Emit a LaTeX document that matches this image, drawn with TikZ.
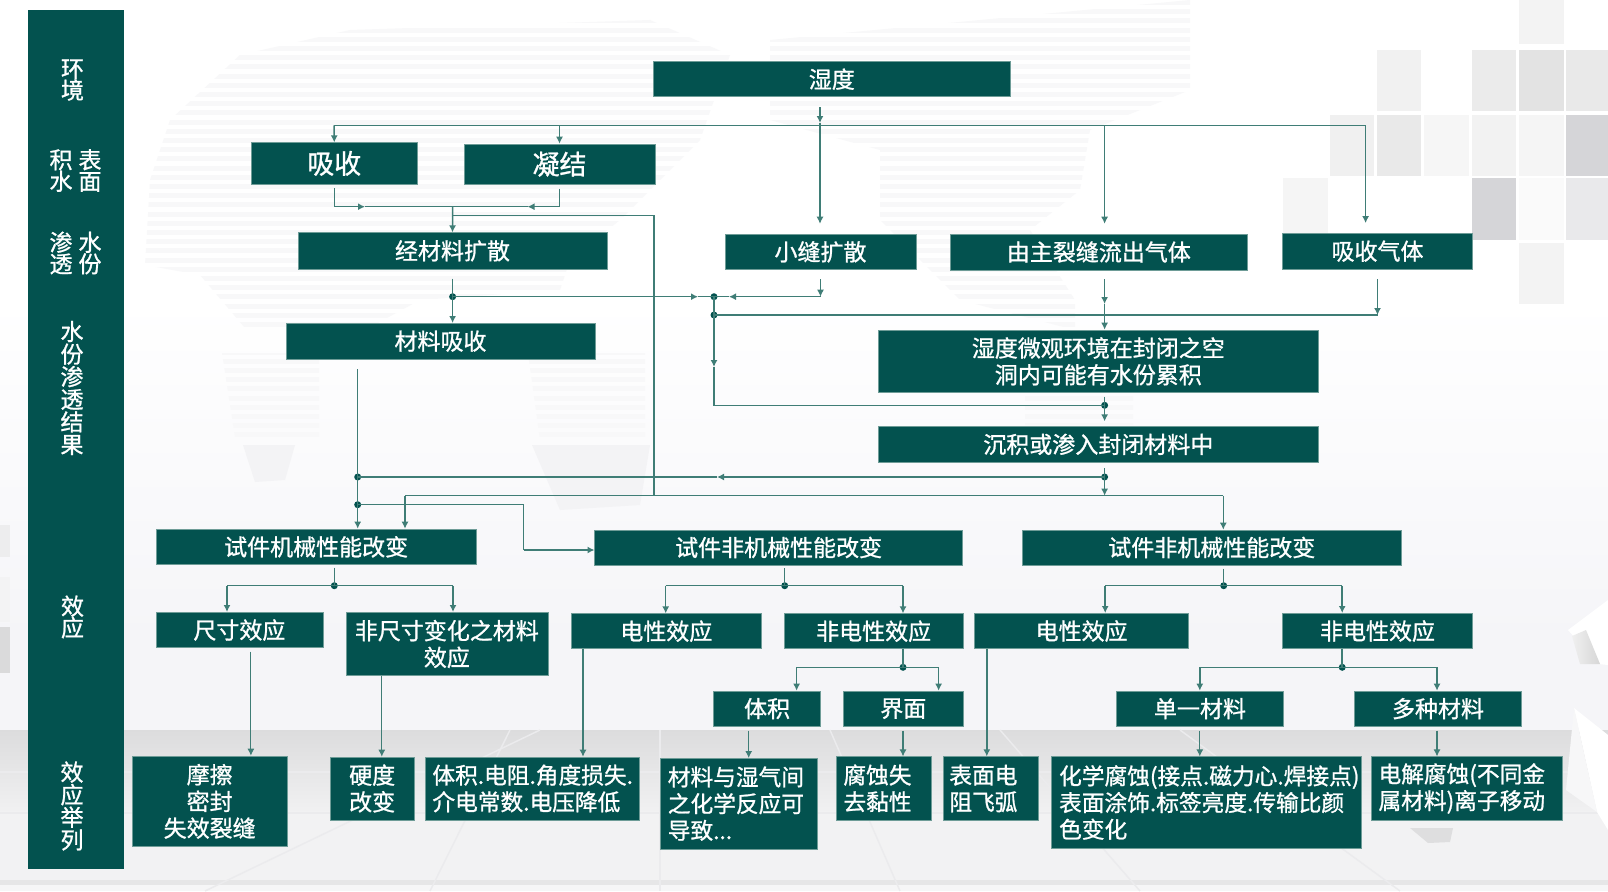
\documentclass[tikz,border=0pt]{standalone}
\usepackage{fontspec}
\setmainfont{Noto Sans CJK SC}[FakeBold=1]
\usetikzlibrary{arrows.meta}
\definecolor{boxteal}{HTML}{03524F}
\definecolor{wire}{HTML}{3F7D76}
\definecolor{edge}{HTML}{6E9C97}
\newcommand{\defc}[1]{\definecolor{#1}{HTML}{#1}}
\defc{F5F5F8}\defc{DCDCDD}\defc{F1F1F2}\defc{F2F2F3}\defc{E6E6E7}\defc{F6F6F7}\defc{EBEBED}\defc{F8F8F9}
\defc{F3F3F3}\defc{F5F5F5}\defc{F1F1F1}\defc{EBEBEB}\defc{E3E3E3}\defc{E9E9E9}\defc{F0F0F0}\defc{F6F6F6}
\defc{F2F2F2}\defc{D5D5D8}\defc{FAFAFA}\defc{E9E9EB}\defc{EDEDEE}\defc{F3F3F4}\defc{DADADB}\defc{D6D6D6}
\defc{F7F7F8}\defc{DEDEDF}\defc{F3F3F5}
\tikzset{
  box/.style={fill=boxteal,draw=edge,line width=.6pt,inner sep=0pt,text=white,align=center,font=\fontsize{23}{26.7}\selectfont},
  bigtxt/.style={font=\fontsize{27}{30}\selectfont},
  sidetxt/.style={text=white,align=center,inner sep=0pt,font=\fontsize{23}{21.5}\selectfont},
  sidetall/.style={text=white,align=center,inner sep=0pt,font=\fontsize{23}{22.6}\selectfont},
  conn/.style={draw=wire,line width=1.5pt,line join=miter},
  tip/.style={conn,-{Latex[length=7pt,width=7pt]}},
  dot/.style={circle,fill=boxteal,minimum size=7pt,inner sep=0pt}
}
\newcommand{\bx}[7][]{%
  \pgfmathsetmacro\bw{#5-#3}\pgfmathsetmacro\bh{#6-#4}%
  \node[box,minimum width=\bw pt,minimum height=\bh pt,#1] (#2) at ({(#3+#5)/2},{(#4+#6)/2}) {#7};}
\newcommand{\bxl}[7][]{%
  \pgfmathsetmacro\bw{#5-#3}\pgfmathsetmacro\bh{#6-#4}\pgfmathsetmacro\tw{#5-#3-2*#1}%
  \node[box,font=\fontsize{22.7}{26.7}\selectfont,minimum height=\bh pt,text width=\tw pt,inner xsep=#1 pt,align=left] (#2) at ({(#3+#5)/2},{(#4+#6)/2}) {#7};}
\newcommand{\sq}[5]{\fill[#5] (#1,#3) rectangle (#2,#4);}
\begin{document}
\begin{tikzpicture}[x=1pt,y=-1pt]
\useasboundingbox (0,0) rectangle (1608,891);
% ---------- background ----------
\fill[white] (0,0) rectangle (1608,300);
\shade[top color=white,bottom color=F5F5F8] (0,300) rectangle (1608,640) ;
\fill[F5F5F8] (0,640) rectangle (1608,730);
\shade[top color=DCDCDD,bottom color=F1F1F2] (0,730) rectangle (1608,812);
\fill[F2F2F3] (0,812) rectangle (1608,881);
\fill[E6E6E7] (0,880) rectangle (1608,885);
\fill[F6F6F7] (0,885) rectangle (1608,891);
\foreach \a/\b in {205/540,430/510,660/660,900/830,1140/1000,1400/1180}{
  \draw[EBEBED,line width=1.5pt] (\a,891) -- (\b,730);}
\draw[EBEBED,line width=1.5pt] (0,813) -- (1608,813);
\draw[EBEBED,line width=1.5pt] (0,772) -- (1608,772);
% world map stripes
\begin{scope}
\clip (350,30) -- (650,20) -- (730,55) -- (700,140) -- (620,220) -- (570,260) -- (560,290) -- (420,300) -- (365,330) -- (245,328) -- (200,275) -- (145,265) -- (150,180) -- (170,120) -- (240,55) -- cycle
      (222,353) -- (319,353) -- (319,437) -- (235,437) -- cycle
      (528,353) -- (645,353) -- (645,440) -- (540,440) -- cycle
      (770,40) -- (1190,0) -- (1190,90) -- (1090,130) -- (1080,190) -- (1030,230) -- (1075,300) -- (1075,330) -- (960,300) -- (880,220) -- (880,150) -- (770,120) -- cycle
      (1025,395) -- (1133,395) -- (1133,425) -- (1025,425) -- cycle;
  \foreach \r in {0,...,48}{
    \fill[F8F8F9] (100,{\r*9.2}) rectangle (1220,{\r*9.2+5});}
\end{scope}
\fill[F3F3F5] (243,445) -- (295,445) -- (285,480) -- (255,482) -- cycle;
\fill[F3F3F5] (532,445) -- (650,445) -- (640,505) -- (560,510) -- cycle;
% grey squares
\sq{1519}{1564}{0}{44}{F3F3F3}
\sq{1377}{1421}{50}{111}{F1F1F1}
\sq{1472}{1516}{50}{111}{EBEBEB}
\sq{1519}{1564}{50}{111}{E3E3E3}
\sq{1566}{1608}{50}{111}{E9E9E9}
\sq{1330}{1374}{115}{176}{F0F0F0}
\sq{1377}{1421}{115}{176}{E9E9E9}
\sq{1424}{1469}{115}{176}{F6F6F6}
\sq{1472}{1516}{115}{176}{F2F2F2}
\sq{1519}{1564}{115}{176}{F5F5F5}
\sq{1566}{1608}{115}{176}{D5D5D8}
\sq{1283}{1328}{178}{240}{F5F5F5}
\sq{1472}{1516}{178}{240}{D5D5D8}
\sq{1519}{1564}{178}{240}{FAFAFA}
\sq{1566}{1608}{178}{240}{E9E9EB}
\sq{1519}{1564}{243}{304}{F3F3F3}
\sq{0}{10}{525}{557}{EDEDEE}
\sq{0}{10}{577}{622}{F3F3F4}
\sq{0}{10}{627}{673}{DADADB}
% paper shapes at the right
\fill[white] (1568,630) -- (1608,600) -- (1608,665) -- (1598,664) -- cycle;
\shade[left color=F0F0F0,right color=D6D6D6] (1572,636) -- (1586,630) -- (1600,664) -- (1580,664) -- cycle;
\fill[white] (1574,708) -- (1608,735) -- (1608,830) -- (1597,812) -- cycle;
\fill[F7F7F8] (1566,790) -- (1574,708) -- (1597,812) -- cycle;
\fill[DEDEDF] (1410,828) -- (1453,828) -- (1450,842) -- (1428,843) -- cycle;
% ---------- side bar ----------
\fill[boxteal] (28,10) rectangle (124,869);
\node[sidetxt] (s1) at (72.5,80) {环\\境};
\node[sidetxt] (s2) at (75.5,170.5) {积\hspace{6pt}表\\水\hspace{6pt}面};
\node[sidetxt] (s3) at (75.5,253) {渗\hspace{6pt}水\\透\hspace{6pt}份};
\node[sidetall] (s4) at (72,388) {水\\份\\渗\\透\\结\\果};
\node[sidetxt] (s5) at (72.5,617) {效\\应};
\node[sidetall] (s6) at (72,806) {效\\应\\举\\列};
% ---------- boxes ----------
\bx{hum}{653.6}{61.7}{1010}{96.7}{湿度}
\bx[bigtxt]{xishou}{251}{142.7}{417.5}{184}{吸收}
\bx[bigtxt]{ningjie}{464}{144}{655}{184.3}{凝结}
\bx{jing}{298}{232.7}{607}{269}{经材料扩散}
\bx{xiao}{725}{234}{916}{269.7}{小缝扩散}
\bx{zhu}{950.7}{234}{1247}{270}{由主裂缝流出气体}
\bx{xq}{1282.3}{233.3}{1472.7}{269}{吸收气体}
\bx{cailiao}{286}{323.3}{595}{359}{材料吸收}
\bx{micro}{878.6}{330}{1318}{392.7}{湿度微观环境在封闭之空\\洞内可能有水份累积}
\bx{chen}{878.6}{426.7}{1318}{462}{沉积或渗入封闭材料中}
\bx{ts1}{156}{529}{476.3}{564.7}{试件机械性能改变}
\bx{ts2}{594.5}{530}{962.7}{565}{试件非机械性能改变}
\bx{ts3}{1022}{530}{1401.6}{565}{试件非机械性能改变}
\bx{size}{156}{612.3}{322.8}{647.7}{尺寸效应}
\bx{nonsize}{345.8}{612.3}{547.9}{675.7}{非尺寸变化之材料\\效应}
\bx{el1}{571.2}{613.7}{761.4}{648.7}{电性效应}
\bx{nel1}{784.3}{613.7}{963}{648.7}{非电性效应}
\bx{el2}{974.5}{613.3}{1188.6}{648.7}{电性效应}
\bx{nel2}{1282.4}{613.3}{1472.6}{648.7}{非电性效应}
\bx{vol}{713.5}{691}{820.7}{726.3}{体积}
\bx{itf}{843.6}{691}{963}{726.3}{界面}
\bx{single}{1116.4}{691}{1283.5}{726.3}{单一材料}
\bx{multi}{1354.5}{691}{1521.5}{726.3}{多种材料}
\bx{mo}{132.2}{756}{287.2}{846.7}{摩擦\\密封\\失效裂缝}
\bx{ying}{330}{757}{414.3}{820}{硬度\\改变}
\bxl[7]{tiji}{425.4}{757}{639.7}{820}{体积.电阻.角度损失.\\介电常数.电压降低}
\bxl[7.5]{chem}{660.3}{758.3}{817.2}{849}{材料与湿气间\\之化学反应可\\导致...}
\bxl[7]{fu}{836.4}{756.7}{931.3}{820}{腐蚀失\\去黏性}
\bxl[6.5]{biao}{942.8}{756.7}{1038}{820.3}{表面电\\阻飞弧}
\bxl[7.5]{huaxue}{1051.6}{756.7}{1361.4}{848.3}{化学腐蚀(接点.磁力心.焊接点)\\表面涂饰.标签亮度.传输比颜\\色变化}
\bxl[7.5]{dianjie}{1371}{756.7}{1562}{820.3}{电解腐蚀(不同金\\属材料)离子移动}
% ---------- junctions ----------
\coordinate (humStub) at (820,107);
\coordinate (humMark) at (820,123);
\coordinate (bar1L) at (334.2,125.3);
\coordinate (bar1N) at (559.5,125.3);
\coordinate (bar1Z) at (1104.6,125.3);
\coordinate (bar1R) at (1365.6,125.3);
\draw[conn] (bar1L) -- (bar1R);
\draw[tip] (bar1L) -- (xishou.north);
\draw[tip] (bar1N) -- (ningjie.north);
\draw[tip] (humStub) -- (humMark);
\draw[tip,shorten >=10pt,line width=1.1pt] (humMark) -- (humMark |- xiao.north);
\draw[tip,shorten >=10pt,line width=1.1pt] (bar1Z) -- (bar1Z |- zhu.north);
\draw[tip,shorten >=10pt,line width=1.1pt] (bar1R) -- (bar1R |- xq.north);
% absorption + condensation merge
\coordinate (mrg) at (452.6,206.7);
\coordinate (mrgL) at (365,206.7);
\coordinate (mrgR) at (527.5,206.7);
\draw[tip] ([yshift=-4pt]xishou.south) |- (mrgL);
\draw[conn] (mrgL) -- (mrg);
\draw[tip] ([yshift=-4pt]ningjie.south) |- (mrgR);
\draw[conn] (mrgR) -- (mrg);
\draw[tip] (mrg) -- (jing.north);
\coordinate (byp0) at (452.6,215.7);
\coordinate (byp1) at (654,215.7);
\coordinate (byp2) at (654,495.7);
\draw[conn] (byp0) -- (byp1) -- (byp2);
% diffusion row
\coordinate (jingStub) at (452.6,278.7);
\node[dot] (d1) at (452.6,296.7) {};
\node[dot] (d2) at (714,296.7) {};
\node[dot] (d3) at (714,315) {};
\coordinate (d1a) at (698,296.7);
\coordinate (d2a) at (729,296.7);
\draw[tip] (jingStub) -- (jingStub |- cailiao.north);
\draw[tip] (d1.center) -- (d1a);
\draw[conn] (d1a) -- (d2.center);
\coordinate (xiaoStub) at (820.5,279);
\coordinate (xiaoCorner) at (820.5,296.7);
\draw[tip] (xiaoStub) -- (xiaoCorner);
\draw[tip] (xiaoCorner) -- (d2a);
\draw[conn] (d2a) -- (d2.center);
\coordinate (d3a) at (714,367);
\node[dot] (d4) at (1104.6,405.3) {};
\draw[conn] (d2.center) -- (d3.center);
\draw[tip] (d3.center) -- (d3a);
\draw[conn] (d3a) |- (d4.center);
\coordinate (xqStub) at (1377.5,279);
\coordinate (xqCorner) at (1377.5,315);
\draw[tip] (xqStub) -- (xqCorner);
\draw[conn] (d3.center) -- (xqCorner);
\coordinate (zhuStub) at (1104.6,279);
\coordinate (zhuMark) at (1104.6,304);
\draw[tip] (zhuStub) -- (zhuMark);
\draw[tip] (zhuMark) -- (zhuMark |- micro.north);
\coordinate (microStub) at (1104.6,396.7);
\draw[conn] (microStub) -- (d4.center);
\draw[tip,shorten >=5pt] (d4.center) -- (d4.center |- chen.north);
% to the specimens
\coordinate (chenStub) at (1104.6,468);
\node[dot] (d5) at (1104.6,477) {};
\coordinate (d5b) at (1104.6,495.7);
\coordinate (d5a) at (717,477);
\node[dot] (d6) at (357.7,477) {};
\node[dot] (d7) at (357.7,504.7) {};
\coordinate (caiStub) at (357.7,369);
\draw[conn] (chenStub) -- (d5.center);
\draw[tip] (d5.center) -- (d5b);
\draw[tip] (d5.center) -- (d5a);
\draw[conn] (d5a) -- (d6.center);
\draw[conn,line width=1.1pt] (caiStub) -- (d6.center);
\draw[conn] (d6.center) -- (d7.center);
\draw[tip] (d7.center) -- (d7.center |- ts1.north);
\coordinate (bar2L) at (405,495.7);
\coordinate (bar2R) at (1223.3,495.7);
\draw[tip] (bar2L) -- (bar2L |- ts1.north);
\draw[conn] (bar2L) -- (bar2R);
\draw[tip] (bar2R) -- (bar2R |- ts3.north);
\coordinate (e1) at (523.7,504.7);
\coordinate (e2) at (523.7,550);
\coordinate (e3) at (594.5,550);
\draw[conn] (d7.center) -- (e1) -- (e2);
\draw[tip] (e2) -- (e3);
% specimen 1
\coordinate (t1s) at (334.3,567.7);
\node[dot] (t1d) at (334.3,585.7) {};
\coordinate (t1l) at (227,585.7);
\coordinate (t1r) at (453,585.7);
\draw[conn] (t1s) -- (t1d.center);
\draw[conn] (t1l) -- (t1r);
\draw[tip] (t1l) -- (t1l |- size.north);
\draw[tip] (t1r) -- (t1r |- nonsize.north);
\coordinate (sizeS) at (250.9,651.7);
\draw[tip,line width=1.1pt] (sizeS) -- (sizeS |- mo.north);
\coordinate (nonS) at (381.8,675.7);
\draw[tip,line width=1.1pt] (nonS) -- (nonS |- ying.north);
\coordinate (el1S) at (583,648.7);
\draw[tip,line width=1.1pt] (el1S) -- (el1S |- tiji.north);
% specimen 2
\coordinate (t2s) at (784.7,568);
\node[dot] (t2d) at (784.7,585.7) {};
\coordinate (t2l) at (665.7,585.7);
\coordinate (t2r) at (903,585.7);
\draw[conn] (t2s) -- (t2d.center);
\draw[conn] (t2l) -- (t2r);
\draw[tip] (t2l) -- (t2l |- el1.north);
\draw[tip] (t2r) -- (t2r |- nel1.north);
\coordinate (n1s) at (903,648.7);
\node[dot] (n1d) at (903,667.3) {};
\coordinate (n1l) at (796.6,667.3);
\coordinate (n1r) at (938.6,667.3);
\draw[conn] (n1s) -- (n1d.center);
\draw[conn] (n1l) -- (n1r);
\draw[tip] (n1l) -- (n1l |- vol.north);
\draw[tip] (n1r) -- (n1r |- itf.north);
\coordinate (volS) at (748.7,730.7);
\draw[tip,line width=1.1pt] (volS) -- (volS |- chem.north);
\coordinate (itfS) at (903,730.7);
\draw[tip,line width=1.1pt] (itfS) -- (itfS |- fu.north);
\coordinate (el2S) at (986.8,648.7);
\draw[tip] (el2S) -- (el2S |- biao.north);
% specimen 3
\coordinate (t3s) at (1223.7,568.7);
\node[dot] (t3d) at (1223.7,585.7) {};
\coordinate (t3l) at (1105.2,585.7);
\coordinate (t3r) at (1342.2,585.7);
\draw[conn] (t3s) -- (t3d.center);
\draw[conn] (t3l) -- (t3r);
\draw[tip] (t3l) -- (t3l |- el2.north);
\draw[tip] (t3r) -- (t3r |- nel2.north);
\coordinate (n2s) at (1342.2,648.7);
\node[dot] (n2d) at (1342.2,667.3) {};
\coordinate (n2l) at (1199.8,667.3);
\coordinate (n2r) at (1437,667.3);
\draw[conn] (n2s) -- (n2d.center);
\draw[conn] (n2l) -- (n2r);
\draw[tip] (n2l) -- (n2l |- single.north);
\draw[tip] (n2r) -- (n2r |- multi.north);
\coordinate (sinS) at (1199.8,730.7);
\draw[tip,line width=1.1pt] (sinS) -- (sinS |- huaxue.north);
\coordinate (mulS) at (1437,730.7);
\draw[tip,line width=1.1pt] (mulS) -- (mulS |- dianjie.north);
\end{tikzpicture}
\end{document}
